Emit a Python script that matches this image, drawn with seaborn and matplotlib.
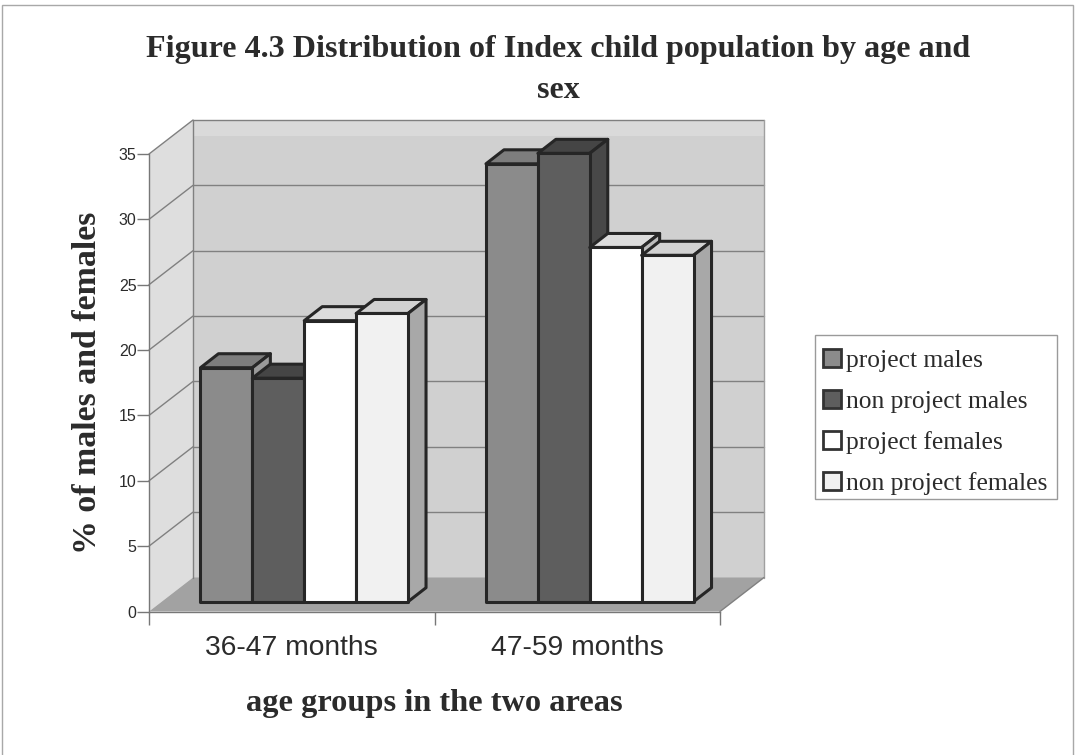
import matplotlib
matplotlib.use('Agg')
import matplotlib.pyplot as plt
from matplotlib.patches import Polygon, Rectangle
import pandas as pd
import seaborn as sns

groups = ['36-47 months', '47-59 months']
series = ['project males', 'non project males', 'project females', 'non project females']
project_males = [17.9, 33.5]
non_project_males = [17.1, 34.3]
project_females = [21.5, 27.1]
non_project_females = [22.05, 26.5]
y_ticks = [0, 5, 10, 15, 20, 25, 30, 35]

front_colors = ['#8b8b8b', '#5e5e5e', '#ffffff', '#f1f1f1']
top_colors = ['#7d7d7d', '#454545', '#dcdcdc', '#d2d2d2']
side_colors = ['#9a9a9a', '#484848', '#bdbdbd', '#a8a8a8']
edge = '#262626'
text_col = '#2b2b2b'

W, H = 1076, 755
sns.set_theme(style='white')
plt.rcParams['font.family'] = ['Liberation Serif', 'DejaVu Serif']

rows = []
for name, vals in zip(series, [project_males, non_project_males, project_females, non_project_females]):
    for g, v in zip(groups, vals):
        rows.append({'group': g, 'series': name, 'value': v})
df = pd.DataFrame(rows)

fig = plt.figure(figsize=(W / 100, H / 100), dpi=100)
fig.patch.set_facecolor('white')
# plot front plane in pixels: x 149..720, y 154..611.5
ax = fig.add_axes([149 / W, 1 - 611.5 / H, 571 / W, 457.5 / H])
ax.set_facecolor('none')

sns.barplot(data=df, x='group', y='value', hue='series', hue_order=series, order=groups,
            palette=front_colors, width=0.727, gap=0, saturation=1, errorbar=None,
            edgecolor=edge, linewidth=2.2, ax=ax)
ax.set_xlim(-0.5, 1.5)
ax.set_ylim(0, 35)

kx = 571 / 2
ky = 457.5 / 35


def d(x, y, px=0, py=0):
    return (x + px / kx, y + py / ky)


def poly(points, color, z, ec='none', lw=0):
    ax.add_patch(Polygon(points, closed=True, facecolor=color, edgecolor=ec, linewidth=lw,
                         zorder=z, clip_on=False, joinstyle='round'))


# walls and floor
wx, wy = 44, 34
poly([d(-0.5, 0), d(-0.5, 35), d(-0.5, 35, wx, wy), d(-0.5, 0, wx, wy)], '#dedede', 0.5)
poly([d(-0.5, 0, wx, wy), d(-0.5, 35, wx, wy), d(1.5, 35, wx, wy), d(1.5, 0, wx, wy)], '#d0d0d0', 0.5)
poly([d(-0.5, 35, wx, wy), d(1.5, 35, wx, wy), d(1.5, 35, wx, wy - 16), d(-0.5, 35, wx, wy - 16)], '#dadada', 0.6)
poly([d(-0.5, 0), d(1.5, 0), d(1.5, 0, wx, wy), d(-0.5, 0, wx, wy)], '#a2a2a2', 0.7)

grid_col = '#808080'
for t in y_ticks:
    if t > 0:
        ax.plot(*zip(d(-0.5, t), d(-0.5, t, wx, wy)), color=grid_col, lw=1, zorder=0.8, clip_on=False)
        ax.plot(*zip(d(-0.5, t, wx, wy), d(1.5, t, wx, wy)), color=grid_col, lw=1, zorder=0.8, clip_on=False)
ax.plot(*zip(d(-0.5, 0, wx, wy), d(-0.5, 35, wx, wy)), color=grid_col, lw=1, zorder=0.8, clip_on=False)
ax.plot(*zip(d(1.5, 0, wx, wy), d(1.5, 35, wx, wy)), color='#a0a0a0', lw=1, zorder=0.8, clip_on=False)
ax.plot(*zip(d(1.5, 0), d(1.5, 0, wx, wy)), color=grid_col, lw=1, zorder=0.8, clip_on=False)

# move bars back from the front plane and give them depth
bx, by = 12.5, 9.8
sx, sy = 18, 14
bars = [b for c in ax.containers for b in c]
bars = sorted(bars, key=lambda b: b.get_x())
for i, b in enumerate(bars):
    k = [j for j, c in enumerate(ax.containers) if b in list(c)][0]
    b.set_x(b.get_x() + bx / kx)
    b.set_y(by / ky)
    b.set_clip_on(False)
    b.set_zorder(3 + i)
    x0, x1 = b.get_x(), b.get_x() + b.get_width()
    y0, y1 = b.get_y(), b.get_y() + b.get_height()
    b.set_joinstyle('round')
    poly([d(x0, y1), d(x1, y1), d(x1, y1, sx, sy), d(x0, y1, sx, sy)], top_colors[k], 3 + i - 0.5, edge, 2.2)
    poly([d(x1, y0), d(x1, y1), d(x1, y1, sx, sy), d(x1, y0, sx, sy)], side_colors[k], 3 + i - 0.5, edge, 2.2)

# axes
for s in ['top', 'right']:
    ax.spines[s].set_visible(False)
for s in ['left', 'bottom']:
    ax.spines[s].set_visible(True)
    ax.spines[s].set_color('#777777')
    ax.spines[s].set_linewidth(1)
    ax.spines[s].set_zorder(1)
ax.set_yticks(y_ticks)
ax.tick_params(axis='y', which='major', left=True, length=9, width=1, color='#777777', pad=0,
               labelsize=11.5, labelcolor=text_col, labelfontfamily='Liberation Sans')
ax.set_xticks([-0.5, 0.5, 1.5], minor=True)
ax.tick_params(axis='x', which='minor', bottom=True, length=9, width=1, color='#777777')
ax.tick_params(axis='x', which='major', bottom=False, pad=11, labelsize=20.3, labelcolor=text_col,
               labelfontfamily='Liberation Sans')

ax.set_xlabel('age groups in the two areas', fontsize=23.3, fontweight='bold', color=text_col, labelpad=20)
ax.set_ylabel('% of males and females', fontsize=24.4, fontweight='bold', color=text_col, labelpad=11)

fig.text(558 / W, 1 - 70 / H, 'Figure 4.3 Distribution of Index child population by age and\nsex',
         ha='center', va='center', fontsize=23.1, fontweight='bold', color=text_col, linespacing=1.58)

leg = ax.legend(loc='upper left', bbox_to_anchor=(815 / W, 1 - 340.5 / H), bbox_transform=fig.transFigure,
                fontsize=18.4, frameon=False, handlelength=0.7, handleheight=0.7, handletextpad=0.2,
                labelspacing=0.71, borderaxespad=0, borderpad=0.32)
for t in leg.get_texts():
    t.set_color(text_col)
for h in leg.get_patches():
    h.set_edgecolor('#333333')
    h.set_linewidth(2)

# legend box and page frame of the scanned figure
fig.add_artist(Rectangle((815 / W, 1 - 499 / H), 242 / W, 164 / H, transform=fig.transFigure,
                         fill=False, edgecolor='#9a9a9a', linewidth=1))
fig.add_artist(Rectangle((2 / W, -0.01), 1071 / W, 1 - 5 / H + 0.01, transform=fig.transFigure,
                         fill=False, edgecolor='#a8a8a8', linewidth=1))

fig.savefig('out.png', dpi=100)
